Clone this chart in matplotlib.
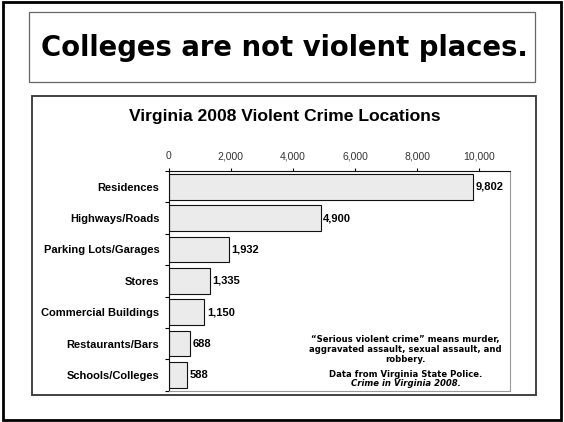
import matplotlib.pyplot as plt
from matplotlib.patches import Rectangle

categories = ["Residences", "Highways/Roads", "Parking Lots/Garages", "Stores",
              "Commercial Buildings", "Restaurants/Bars", "Schools/Colleges"]
values = [9802, 4900, 1932, 1335, 1150, 688, 588]
x_ticks = [0, 2000, 4000, 6000, 8000, 10000]

headline = "Colleges are not violent places."
chart_title = "Virginia 2008 Violent Crime Locations"
note_lines = ["\u201cSerious violent crime\u201d means murder,",
              "aggravated assault, sexual assault, and",
              "robbery."]
source_line = "Data from Virginia State Police."
source_title = "Crime in Virginia 2008."

W, H = 564, 422


def fx(x):
    return x / W


def fy(y):
    return 1 - y / H


def frame(fig, x0, y0, x1, y1, color, lw):
    """rysuje ramke w pikselach obrazka"""
    fig.add_artist(Rectangle((fx(x0), fy(y1)), fx(x1) - fx(x0), fy(y0) - fy(y1),
                             transform=fig.transFigure, fill=False,
                             edgecolor=color, linewidth=lw))


fig = plt.figure(figsize=(W / 100, H / 100), dpi=100)

frame(fig, 2.5, 1.5, 561, 419.5, 'black', 2.0)
frame(fig, 28.7, 12.3, 535.3, 82, '#666666', 0.9)
frame(fig, 32.3, 96.3, 536, 395.3, '#333333', 1.3)

fig.text(fx(284), fy(48), headline, ha='center', va='center',
         fontsize=19.8, fontweight='bold', family='DejaVu Sans')
fig.text(fx(284.5), fy(117), chart_title, ha='center', va='center',
         fontsize=12.6, fontweight='bold', family='Liberation Sans')

ax = fig.add_axes([fx(168.7), fy(390.7), fx(510.3) - fx(168.7), fy(171) - fy(390.7)])
n = len(categories)
pos = list(range(n))
ax.barh(pos, values, height=0.82, color='#ebebeb', edgecolor='#111111', linewidth=0.8)
for i, v in zip(pos, values):
    ax.annotate(f"{v:,}", (v, i), xytext=(1.8, 0), textcoords='offset points',
                ha='left', va='center', fontsize=8, fontweight='bold',
                family='Liberation Sans')

ax.set_xlim(0, 11000)
ax.set_ylim(n - 0.5, -0.5)
ax.xaxis.tick_top()
ax.set_xticks(x_ticks, labels=[f"{t:,}" for t in x_ticks])
ax.tick_params(axis='x', direction='out', length=2.5, width=0.8, pad=4.5,
               labelsize=7.5, labelcolor='#333333')
ax.set_yticks(pos, labels=categories)
ax.set_yticks([p - 0.5 for p in range(n + 1)], minor=True)
ax.tick_params(axis='y', which='major', length=0, pad=6.8, labelsize=8)
ax.tick_params(axis='y', which='minor', direction='out', length=3, width=0.8)
for lab in ax.get_yticklabels():
    lab.set_fontweight('bold')
    lab.set_family('Liberation Sans')
for lab in ax.get_xticklabels():
    lab.set_family('Liberation Sans')

ax.spines['top'].set_color('#111111')
ax.spines['left'].set_color('#111111')
ax.spines['right'].set_color('#999999')
ax.spines['bottom'].set_color('#999999')
for s in ax.spines.values():
    s.set_linewidth(0.8)

for txt, y in zip(note_lines, [339.3, 349.5, 359.5]):
    fig.text(fx(405.5), fy(y), txt, ha='center', va='center', fontsize=6.1,
             fontweight='bold', family='DejaVu Sans')
fig.text(fx(405.5), fy(374.3), source_line, ha='center', va='center', fontsize=6.1,
         fontweight='bold', family='DejaVu Sans')
fig.text(fx(405.5), fy(384), source_title, ha='center', va='center', fontsize=6.1,
         fontweight='bold', fontstyle='italic', family='DejaVu Sans')

fig.savefig('out.png', dpi=100)
